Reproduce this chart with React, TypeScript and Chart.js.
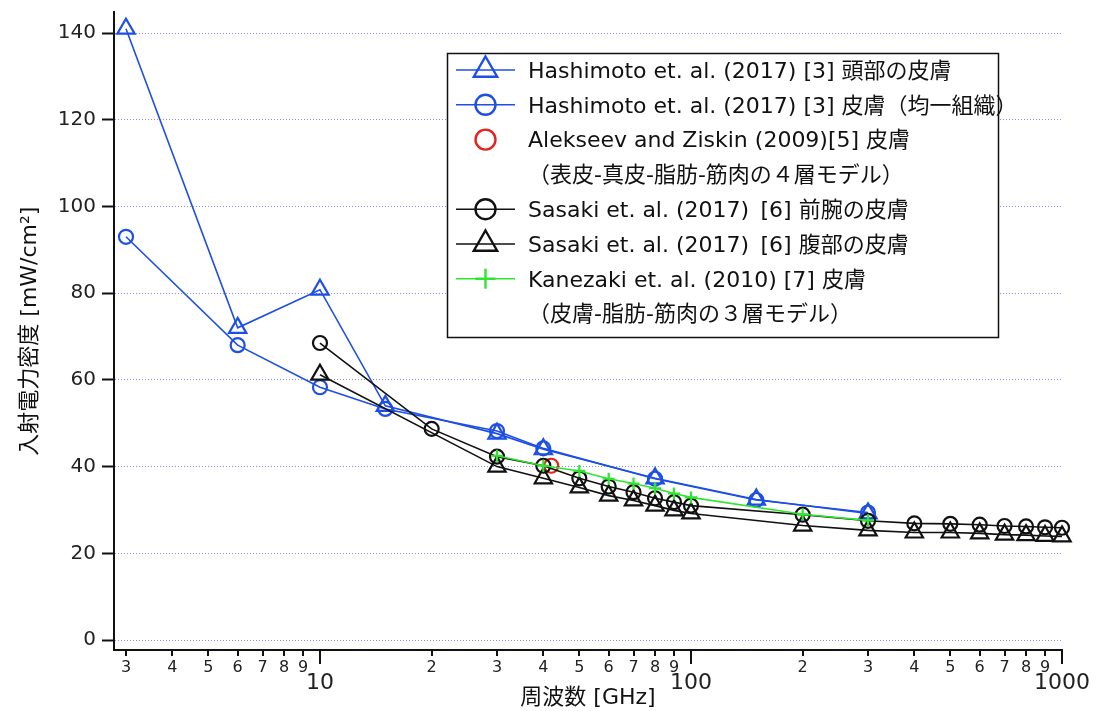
import React, { useEffect, useRef } from 'react';
import { Chart, registerables } from 'chart.js';

Chart.register(...registerables);

const FONT = '"DejaVu Sans", "Noto Sans CJK JP", sans-serif';
const BLUE = '#1e4fe4';
const BLACK = '#111111';
const GREEN = '#2fe62f';
const RED = '#e5231d';

// axes
const xTickValues = [3, 4, 5, 6, 7, 8, 9, 10, 20, 30, 40, 50, 60, 70, 80, 90, 100, 200, 300, 400, 500, 600, 700, 800, 900, 1000];
const xMajorTicks = [10, 100, 1000];
const yTickValues = [0, 20, 40, 60, 80, 100, 120, 140];
const xRange = [2.785, 1000];
const yRange = [-2.3, 144.8];

// series (frequency GHz, incident power density mW/cm2)
const hashimotoHeadFreq = [3, 6, 10, 15, 30, 40, 80, 150, 300];
const hashimotoHeadPD = [141, 72, 80.8, 54, 47.6, 44, 37.3, 32.4, 29.2];
const hashimotoUniformFreq = [3, 6, 10, 15, 30, 40, 80, 150, 300];
const hashimotoUniformPD = [93, 68, 58.3, 53.3, 48.2, 44.2, 37.2, 32.3, 29.4];
const alekseevFreq = [42];
const alekseevPD = [40.2];
const sasakiForearmFreq = [10, 20, 30, 40, 50, 60, 70, 80, 90, 100, 200, 300, 400, 500, 600, 700, 800, 900, 1000];
const sasakiForearmPD = [68.5, 48.7, 42.3, 40.2, 37.3, 35.4, 34.1, 32.7, 31.8, 31.0, 28.9, 27.5, 26.9, 26.8, 26.6, 26.3, 26.2, 26.0, 25.9];
const sasakiAbdomenFreq = [10, 30, 40, 50, 60, 70, 80, 90, 100, 200, 300, 400, 500, 600, 700, 800, 900, 1000];
const sasakiAbdomenPD = [61.2, 40.0, 37.3, 35.2, 33.3, 32.2, 31.0, 29.9, 29.2, 26.4, 25.3, 24.8, 24.8, 24.6, 24.3, 24.2, 24.0, 23.9];
const kanezakiFreq = [30, 40, 50, 60, 70, 80, 90, 100, 200, 300];
const kanezakiPD = [42.5, 40.2, 39.0, 37.2, 36.1, 35.0, 33.8, 32.9, 29.0, 27.6];

const legendLabels = [
  'Hashimoto et. al. (2017) [3] 頭部の皮膚',
  'Hashimoto et. al. (2017) [3] 皮膚（均一組織）',
  'Alekseev and Ziskin (2009)[5] 皮膚',
  '（表皮-真皮-脂肪-筋肉の４層モデル）',
  'Sasaki et. al. (2017) \u2009[6] 前腕の皮膚',
  'Sasaki et. al. (2017) \u2009[6] 腹部の皮膚',
  'Kanezaki et. al. (2010) [7] 皮膚',
  '（皮膚-脂肪-筋肉の３層モデル）',
];
const legendSeries: (number | null)[] = [0, 1, 2, null, 3, 4, 5, null];

const xTitle = '周波数 [GHz]';
const yTitle = '入射電力密度 [mW/cm²]';

const zip = (xs: number[], ys: number[]) => xs.map((x, i) => ({ x, y: ys[i] }));

function buildDatasets() {
  const base = { backgroundColor: 'rgba(0,0,0,0)', pointBackgroundColor: 'rgba(0,0,0,0)', borderWidth: 1.6, pointBorderWidth: 2.2, clip: false as const, tension: 0 };
  return [
    { ...base, label: legendLabels[0], data: zip(hashimotoHeadFreq, hashimotoHeadPD), borderColor: BLUE, pointBorderColor: BLUE, pointStyle: 'triangle', pointRadius: 10, showLine: true, order: 6 },
    { ...base, label: legendLabels[1], data: zip(hashimotoUniformFreq, hashimotoUniformPD), borderColor: BLUE, pointBorderColor: BLUE, pointStyle: 'circle', pointRadius: 7, showLine: true, order: 5 },
    { ...base, label: legendLabels[2], data: zip(alekseevFreq, alekseevPD), borderColor: RED, pointBorderColor: RED, pointStyle: 'circle', pointRadius: 7, showLine: false, order: 4 },
    { ...base, label: legendLabels[4], data: zip(sasakiForearmFreq, sasakiForearmPD), borderColor: BLACK, pointBorderColor: BLACK, pointStyle: 'circle', pointRadius: 7, showLine: true, order: 3 },
    { ...base, label: legendLabels[5], data: zip(sasakiAbdomenFreq, sasakiAbdomenPD), borderColor: BLACK, pointBorderColor: BLACK, pointStyle: 'triangle', pointRadius: 10, showLine: true, order: 2 },
    { ...base, label: legendLabels[6], data: zip(kanezakiFreq, kanezakiPD), borderColor: GREEN, pointBorderColor: GREEN, pointStyle: 'cross', pointRadius: 6, showLine: true, order: 1 },
  ];
}

function drawMarker(ctx: CanvasRenderingContext2D, style: string, x: number, y: number, r: number) {
  ctx.beginPath();
  if (style === 'triangle') {
    for (let k = 0; k < 3; k++) {
      const a = (k * 2 * Math.PI) / 3;
      const px = x + Math.sin(a) * r;
      const py = y - Math.cos(a) * r;
      if (k === 0) ctx.moveTo(px, py); else ctx.lineTo(px, py);
    }
    ctx.closePath();
  } else if (style === 'circle') {
    ctx.arc(x, y, r, 0, Math.PI * 2);
  } else {
    ctx.moveTo(x - r, y); ctx.lineTo(x + r, y);
    ctx.moveTo(x, y - r); ctx.lineTo(x, y + r);
  }
  ctx.stroke();
}

const decorPlugin = {
  id: 'decor',
  afterDraw(chart: any) {
    const ctx: CanvasRenderingContext2D = chart.ctx;
    const xs = chart.scales.x;
    const bottom = chart.chartArea.bottom;
    ctx.save();
    // x tick marks
    ctx.strokeStyle = BLACK;
    ctx.lineWidth = 2;
    xTickValues.forEach((v) => {
      const px = Math.round(xs.getPixelForValue(v));
      const len = xMajorTicks.includes(v) ? 14 : 6;
      ctx.beginPath();
      ctx.moveTo(px, bottom);
      ctx.lineTo(px, bottom + len);
      ctx.stroke();
    });
    // legend
    const bx = 447, by = 53, bw = 551, bh = 284;
    ctx.fillStyle = '#ffffff';
    ctx.fillRect(bx, by, bw, bh);
    ctx.strokeStyle = BLACK;
    ctx.lineWidth = 1.5;
    ctx.strokeRect(bx + 0.5, by + 0.5, bw, bh);
    const dsets = chart.data.datasets;
    ctx.font = `22px ${FONT}`;
    ctx.textBaseline = 'alphabetic';
    ctx.textAlign = 'left';
    legendLabels.forEach((label, i) => {
      const base = 77.7 + i * 34.8;
      const my = base - 7.7;
      const si = legendSeries[i];
      if (si !== null) {
        const ds = dsets[si];
        ctx.strokeStyle = ds.borderColor;
        if (ds.showLine) {
          ctx.lineWidth = 1.6;
          ctx.beginPath();
          ctx.moveTo(456, my);
          ctx.lineTo(515, my);
          ctx.stroke();
        }
        ctx.lineWidth = 2.4;
        const r = ds.pointStyle === 'triangle' ? 13.5 : 10;
        drawMarker(ctx, ds.pointStyle, 485.5, my, r);
      }
      ctx.fillStyle = BLACK;
      ctx.fillText(label, 528, base);
    });
    ctx.restore();
  },
};

export default function App() {
  const ref = useRef<HTMLCanvasElement>(null);
  useEffect(() => {
    const canvas = ref.current;
    if (!canvas) return;
    Chart.defaults.font.family = FONT;
    const chart = new Chart(canvas, {
      type: 'line',
      data: { datasets: buildDatasets() as any },
      options: {
        animation: false,
        responsive: false,
        devicePixelRatio: 1,
        layout: { padding: { left: 0, top: 10, right: 31, bottom: 0 } },
        plugins: { legend: { display: false }, tooltip: { enabled: false } },
        scales: {
          x: {
            type: 'logarithmic',
            min: xRange[0],
            max: xRange[1],
            afterBuildTicks: (s: any) => {
              s.ticks = xTickValues.map((v) => ({ value: v, major: xMajorTicks.includes(v) }));
            },
            afterFit: (s: any) => {
              s.height = 61;
              s.paddingLeft = 0;
              s.paddingRight = 0;
            },
            grid: { display: false, drawTicks: false },
            border: { display: true, color: BLACK, width: 2 },
            ticks: {
              autoSkip: false,
              maxRotation: 0,
              minRotation: 0,
              padding: 9,
              color: '#222',
              font: (c: any) =>
                c.tick && xMajorTicks.includes(c.tick.value)
                  ? { family: FONT, size: 22, lineHeight: '48px' }
                  : { family: FONT, size: 16, lineHeight: '18px' },
              callback: (v: any) => (xMajorTicks.includes(Number(v)) ? String(v) : String(v).charAt(0)),
            },
            title: { display: true, text: xTitle, color: BLACK, font: { family: FONT, size: 22 }, padding: { top: 0, bottom: 0 } },
          },
          y: {
            type: 'linear',
            min: yRange[0],
            max: yRange[1],
            afterBuildTicks: (s: any) => {
              s.ticks = yTickValues.map((v) => ({ value: v }));
            },
            afterFit: (s: any) => {
              s.width = 114;
              s.paddingTop = 0;
              s.paddingBottom = 0;
            },
            grid: {
              color: 'rgba(135,135,225,0.95)',
              lineWidth: 1,
              drawTicks: true,
              tickLength: 12,
              tickColor: BLACK,
              tickWidth: 2,
              tickBorderDash: [],
            } as any,
            border: { display: true, color: BLACK, width: 2, dash: [1, 2] },
            ticks: { padding: 6, color: '#222', font: { family: FONT, size: 20 } },
            title: { display: true, text: yTitle, color: BLACK, font: { family: FONT, size: 22 }, padding: { top: 17, bottom: 0 } },
          },
        },
      } as any,
      plugins: [decorPlugin],
    });
    return () => chart.destroy();
  }, []);
  return (
    <div style={{ position: 'fixed', left: 0, top: 0, width: 1093, height: 711, background: '#ffffff' }}>
      <canvas ref={ref} width={1093} height={711} style={{ display: 'block', width: 1093, height: 711 }} />
    </div>
  );
}
